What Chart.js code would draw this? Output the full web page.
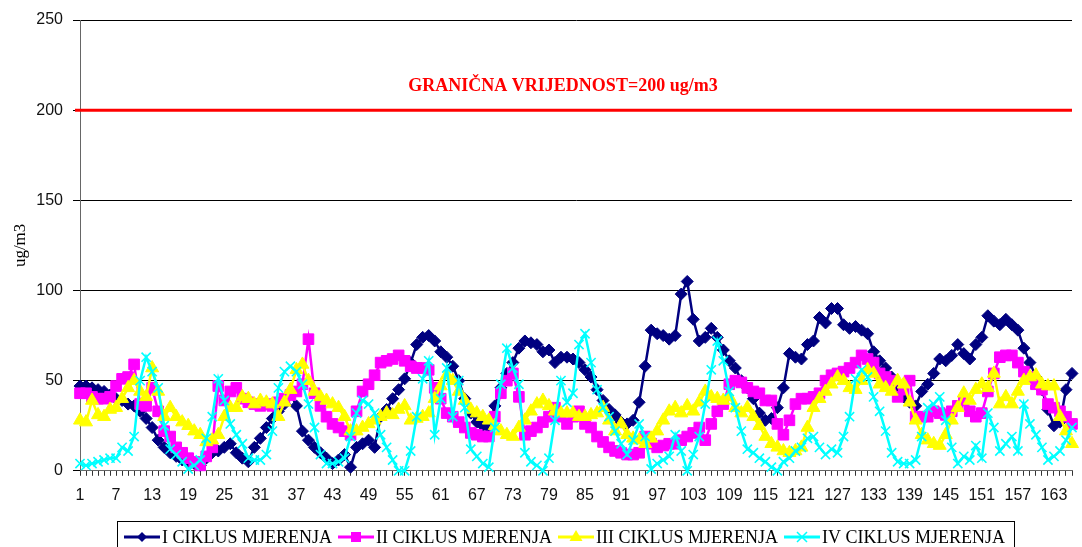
<!DOCTYPE html>
<html>
<head>
<meta charset="utf-8">
<script src="https://cdn.jsdelivr.net/npm/chart.js@4.4.1/dist/chart.umd.min.js"></script>
<style>
  html, body { margin: 0; padding: 0; background: #fff; }
  #wrap { width: 1082px; height: 547px; }
</style>
</head>
<body>
<div id="wrap"><canvas id="chart" width="1082" height="547"></canvas></div>
<script>
// DATA

const days = Array.from({ length: 166 }, (_, i) => String(i + 1));
const tickStep = 6;

const seriesNames = [
  'I CIKLUS MJERENJA',
  'II CIKLUS MJERENJA',
  'III CIKLUS MJERENJA',
  'IV CIKLUS MJERENJA',
];

const ciklus1 = [
  47, 47, 46, 45, 44, 42, 40, 39, 37, 36,
  33, 29, 24, 17, 13, 10, 8, 6, 5, 4,
  3, 7, 10, 11, 13, 15, 10, 7, 5, 13,
  18, 24, 29, 33, 37, 43, 36, 22, 17, 13,
  10, 7, 4, 6, 9, 2, 13, 15, 17, 13,
  30, 34, 40, 45, 51, 60, 70, 74, 75, 72,
  66, 63, 58, 50, 40, 32, 27, 25, 24, 36,
  46, 54, 60, 68, 72, 71, 70, 66, 67, 60,
  63, 63, 62, 60, 56, 52, 45, 39, 34, 31,
  27, 26, 28, 38, 58, 78, 76, 75, 73, 75,
  98, 105, 84, 72, 74, 79, 74, 67, 61, 57,
  50, 46, 40, 32, 28, 29, 35, 46, 65, 63,
  62, 70, 72, 85, 82, 90, 90, 81, 79, 80,
  78, 76, 66, 61, 57, 52, 47, 41, 38, 36,
  44, 48, 54, 62, 61, 64, 70, 65, 62, 70,
  74, 86, 83, 81, 84, 81, 78, 68, 60, 52,
  45, 34, 25, 27, 45, 54,
];

const ciklus2 = [
  43, 43, 41, 40, 40, 41, 47, 51, 52, 59,
  37, 36, 46, 33, 22, 19, 13, 10, 7, 5,
  3, 8, 13, 47, 39, 44, 46, 40, 38, 37,
  36, 37, 36, 38, 40, 42, 44, 48, 73, 43,
  36, 30, 26, 24, 22, 20, 33, 44, 48, 53,
  60, 61, 62, 64, 61, 58, 57, 57, 56, 46,
  40, 32, 30, 27, 24, 21, 20, 19, 19, 30,
  43, 50, 54, 41, 20, 22, 24, 27, 30, 35,
  30, 26, 30, 33, 26, 24, 19, 16, 13, 11,
  10, 9, 9, 10, 19, 15, 13, 14, 15, 15,
  17, 19, 21, 24, 17, 26, 33, 37, 48, 50,
  49, 46, 44, 43, 39, 39, 26, 20, 28, 37,
  40, 40, 41, 43, 50, 53, 54, 55, 57, 60,
  64, 62, 60, 54, 52, 50, 41, 45, 50, 30,
  30, 30, 33, 32, 31, 33, 36, 39, 33, 30,
  32, 44, 54, 63, 64, 64, 60, 55, 52, 48,
  45, 37, 35, 33, 30, 26,
];

const ciklus3 = [
  28, 27, 39, 31, 30, 34, 35, 40, 46, 50,
  44, 41, 57, 44, 30, 35, 30, 27, 25, 22,
  20, 16, 17, 20, 30, 35, 35, 41, 40, 37,
  39, 38, 37, 30, 38, 45, 56, 59, 50, 44,
  41, 39, 37, 35, 30, 22, 22, 24, 26, 28,
  30, 32, 31, 34, 36, 28, 29, 30, 32, 40,
  47, 53, 50, 44, 39, 34, 32, 30, 28, 25,
  22, 20, 19, 24, 28, 33, 37, 39, 36, 33,
  32, 32, 32, 30, 30, 31, 32, 35, 28, 22,
  26, 20, 18, 17, 15, 18, 22, 28, 33, 35,
  32, 36, 33, 38, 44, 41, 40, 39, 41, 35,
  32, 35, 30, 25, 19, 15, 13, 11, 10, 11,
  13, 24, 35, 40, 44, 48, 52, 50, 46, 45,
  50, 56, 54, 48, 46, 44, 50, 48, 38, 28,
  20, 17, 15, 14, 20, 28, 35, 43, 39, 45,
  48, 46, 54, 37, 41, 37, 44, 50, 52, 53,
  48, 47, 47, 30, 22, 15,
];

const ciklus4 = [
  4, 3, 4, 5, 6, 7, 7, 13, 11, 19,
  50, 63, 55, 46, 25, 12, 9, 5, 1, 3,
  6, 18, 30, 51, 39, 26, 20, 15, 7, 6,
  6, 9, 22, 46, 55, 58, 55, 48, 37, 24,
  9, 4, 4, 5, 7, 19, 32, 39, 37, 32,
  20, 13, 6, 0, 0, 11, 30, 51, 61, 20,
  40, 57, 30, 50, 35, 12, 8, 4, 2, 24,
  48, 68, 57, 48, 10, 5, 3, 0, 7, 28,
  50, 38, 43, 70, 76, 60, 45, 35, 30, 22,
  15, 9, 17, 26, 19, 1, 4, 6, 8, 20,
  11, 0, 9, 19, 37, 56, 72, 61, 44, 35,
  22, 12, 10, 7, 5, 2, 0, 5, 7, 11,
  13, 18, 19, 13, 9, 12, 10, 19, 30, 51,
  56, 52, 41, 33, 22, 10, 5, 4, 4, 6,
  19, 35, 37, 41, 28, 13, 4, 8, 6, 14,
  7, 32, 24, 11, 15, 19, 11, 37, 26, 20,
  13, 6, 8, 11, 17, 24,
];

const yMin = 0;
const yMax = 250;
const yStep = 50;
const yTitle = 'ug/m3';
const limitValue = 200;
const limitLabel = 'GRANIČNA VRIJEDNOST=200 ug/m3';

// STYLE

const colors = ['#000080', '#ff00ff', '#ffff00', '#00ffff'];
const markers = ['rectRot', 'rect', 'triangle', 'crossRot'];
const markerSizes = [6, 7.5, 7.5, 6.5];
const serif = '"Liberation Serif", "Times New Roman", serif';

Chart.defaults.font.family = '"Liberation Sans", Arial, sans-serif';
Chart.defaults.color = '#111';

// PLUGINS

const limitLine = {
  id: 'limitLine',
  beforeDatasetsDraw(chart) {
    const { ctx, chartArea, scales } = chart;
    const y = scales.y.getPixelForValue(limitValue);
    ctx.save();
    ctx.strokeStyle = '#ff0000';
    ctx.lineWidth = 3;
    ctx.beginPath();
    ctx.moveTo(chartArea.left - 5, y);
    ctx.lineTo(chartArea.right, y);
    ctx.stroke();
    ctx.fillStyle = '#ff0000';
    ctx.font = 'bold 18px ' + serif;
    ctx.textAlign = 'center';
    ctx.textBaseline = 'alphabetic';
    ctx.fillText(limitLabel, 563, y - 19);
    ctx.restore();
  },
};

const drawMarker = (ctx, style, x, y, color) => {
  ctx.fillStyle = color;
  ctx.strokeStyle = color;
  ctx.beginPath();
  if (style === 'rectRot') {
    ctx.moveTo(x, y - 5);
    ctx.lineTo(x + 5, y);
    ctx.lineTo(x, y + 5);
    ctx.lineTo(x - 5, y);
    ctx.closePath();
    ctx.fill();
  } else if (style === 'rect') {
    ctx.rect(x - 5, y - 5, 10, 10);
    ctx.fill();
  } else if (style === 'triangle') {
    ctx.moveTo(x, y - 7);
    ctx.lineTo(x + 6.5, y + 4);
    ctx.lineTo(x - 6.5, y + 4);
    ctx.closePath();
    ctx.fill();
  } else {
    ctx.lineWidth = 1.5;
    ctx.moveTo(x - 5, y - 5);
    ctx.lineTo(x + 5, y + 5);
    ctx.moveTo(x + 5, y - 5);
    ctx.lineTo(x - 5, y + 5);
    ctx.stroke();
  }
};

const legendBox = {
  id: 'legendBox',
  afterDraw(chart) {
    const ctx = chart.ctx;
    const y = 537;
    let x = 124;
    ctx.save();
    ctx.font = '18px ' + serif;
    ctx.textBaseline = 'middle';
    seriesNames.forEach((name, i) => {
      ctx.strokeStyle = colors[i];
      ctx.lineWidth = 3;
      ctx.beginPath();
      ctx.moveTo(x, y);
      ctx.lineTo(x + 36, y);
      ctx.stroke();
      drawMarker(ctx, markers[i], x + 18, y, colors[i]);
      ctx.fillStyle = '#000';
      ctx.fillText(name, x + 38, y + 1);
      x += 38 + ctx.measureText(name).width + 6;
    });
    ctx.strokeStyle = '#000';
    ctx.lineWidth = 1;
    ctx.strokeRect(117.5, 521.5, x - 114, 40);
    ctx.restore();
  },
};

// CHART

const lineSet = (label, data, i, order) => ({
  label,
  data,
  order,
  borderColor: colors[i],
  backgroundColor: colors[i],
  borderWidth: 2.5,
  tension: 0,
  pointStyle: markers[i],
  pointRadius: markerSizes[i],
  pointBorderWidth: i === 3 ? 1.6 : 1,
  pointBackgroundColor: colors[i],
  pointBorderColor: colors[i],
  clip: false,
});

const chart = new Chart(document.querySelector('#chart'), {
  type: 'line',
  data: {
    labels: days,
    datasets: [
      lineSet(seriesNames[0], ciklus1, 0, 3),
      lineSet(seriesNames[1], ciklus2, 1, 2),
      lineSet(seriesNames[2], ciklus3, 2, 1),
      lineSet(seriesNames[3], ciklus4, 3, 0),
    ],
  },
  options: {
    responsive: false,
    animation: false,
    layout: {
      padding: { top: 20, right: 0, bottom: 32, left: 0 },
    },
    plugins: {
      legend: false,
      tooltip: { enabled: false },
    },
    scales: {
      x: {
        offset: false,
        border: { display: true, color: '#666', width: 1 },
        grid: {
          drawOnChartArea: false,
          drawTicks: true,
          tickLength: 5,
          color: '#333',
        },
        ticks: {
          autoSkip: false,
          maxRotation: 0,
          minRotation: 0,
          padding: 10,
          font: { size: 16 },
          callback: (value, index) => (index % tickStep === 0 ? days[index] : ''),
        },
      },
      y: {
        min: yMin,
        max: yMax,
        afterFit: (scale) => {
          scale.width = 80;
        },
        border: { display: true, color: '#666', width: 1 },
        grid: {
          color: '#000',
          lineWidth: 1,
          tickLength: 7,
        },
        ticks: {
          stepSize: yStep,
          padding: 10,
          font: { size: 16 },
        },
        title: {
          display: true,
          text: yTitle,
          color: '#000',
          font: { family: serif, size: 17 },
          padding: { top: 10, bottom: 0 },
        },
      },
    },
  },
  plugins: [limitLine, legendBox],
});
</script>
</body>
</html>
